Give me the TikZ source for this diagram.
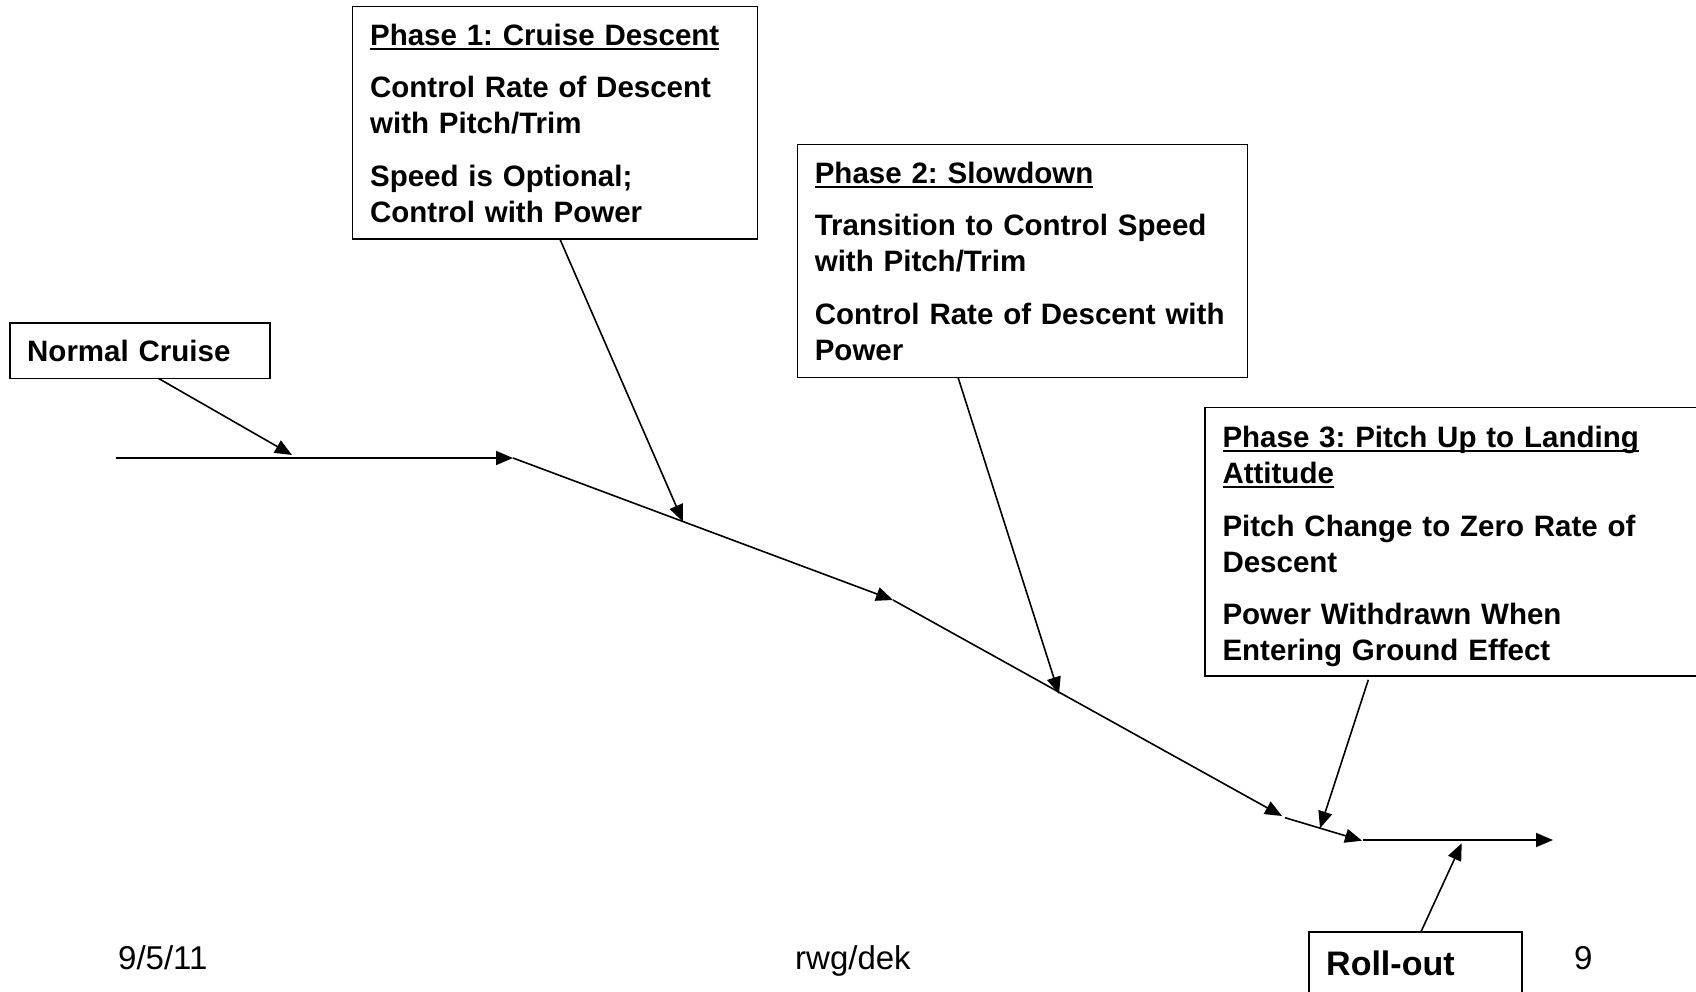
\documentclass[tikz,border=0pt]{standalone}
\usepackage{fontspec}
\setmainfont{Liberation Sans}
\usetikzlibrary{arrows.meta}
\frenchspacing
\newsavebox\phaseulbox
\newcommand\phaseul[1]{\leavevmode\sbox\phaseulbox{#1}\rlap{\rule[-4.5pt]{\wd\phaseulbox}{2pt}}\usebox\phaseulbox}
\begin{document}
\begin{tikzpicture}[x=1pt,y=-1pt,
  box/.style={draw, line width=1.6pt, anchor=north west, inner xsep=17.5pt, inner ysep=0pt,
    outer sep=0pt, align=left, font=\fontsize{29.5}{36}\selectfont\bfseries},
  foot/.style={anchor=base west, inner sep=0pt, font=\fontsize{33}{38}\selectfont},
  arr/.style={-{Triangle[length=17pt,width=14pt]}, line width=1.6pt}]
\useasboundingbox (0,0) rectangle (1696,992);
\fill[white] (0,0) rectangle (1696,992);

% boxes
\node[box, minimum width=260.3pt, minimum height=55.6pt, text width=225.3pt] (nc) at (9.7,322.7) {Normal Cruise};
\node[box, minimum width=405pt, minimum height=232.6pt, text width=370pt] (p1) at (352.6,6.7)
  {\phaseul{Phase 1: Cruise Descent}\\[16.5pt]
   Control Rate of Descent\\ with Pitch/Trim\\[16.5pt]
   Speed is Optional;\\ Control with Power};
\node[box, minimum width=450pt, minimum height=232.6pt, text width=415pt] (p2) at (797.3,144.7)
  {\phaseul{Phase 2: Slowdown}\\[16.5pt]
   Transition to Control Speed\\ with Pitch/Trim\\[16.5pt]
   Control Rate of Descent with\\ Power};
\node[box, minimum width=520pt, minimum height=268.3pt, text width=485pt] (p3) at (1205,407.5)
  {\rule{0pt}{31pt}\phaseul{Phase 3: Pitch Up to Landing}\\\phaseul{Attitude}\\[16.5pt]
   Pitch Change to Zero Rate of\\ Descent\\[16.5pt]
   Power Withdrawn When\\ Entering Ground Effect};
\node[box, minimum width=213pt, text width=178pt, text height=43.3pt, text depth=50pt,
  font=\fontsize{34}{40}\selectfont\bfseries] (ro) at (1308.7,931.7) {Roll-out};

% footer
\node[foot] (date) at (118,969) {9/5/11};
\node[foot] (auth) at (795,969) {rwg/dek};
\node[foot] (page) at (1574,969) {9};

% main path points
\coordinate (m0) at (116,458);
\coordinate (m1) at (513,458);
\coordinate (m2) at (893,600);
\coordinate (m3) at (1282,816);
\coordinate (m4) at (1285,817.7);
\coordinate (m5) at (1362,840.7);
\coordinate (m6) at (1363,840);
\coordinate (m7) at (1553,840);

% callout targets
\coordinate (t1) at (292,455);
\coordinate (t2) at (683,521.7);
\coordinate (t3) at (1059,694);
\coordinate (t4) at (1320,828.3);
\coordinate (t5) at (1461.7,843.3);

\draw[arr] (m0) -- (m1);
\draw[arr] (m1) -- (m2);
\draw[arr] (m2) -- (m3);
\draw[arr] (m4) -- (m5);
\draw[arr] (m6) -- (m7);

\draw[arr] ([xshift=148.6pt]nc.south west) -- (t1);
\draw[arr] ([xshift=207.4pt]p1.south west) -- (t2);
\draw[arr] ([xshift=160.7pt]p2.south west) -- (t3);
\draw[arr] ([shift={(163.3pt,-4pt)}]p3.south west) -- (t4);
\draw[arr] ([xshift=112.3pt]ro.north west) -- (t5);
\end{tikzpicture}
\end{document}
